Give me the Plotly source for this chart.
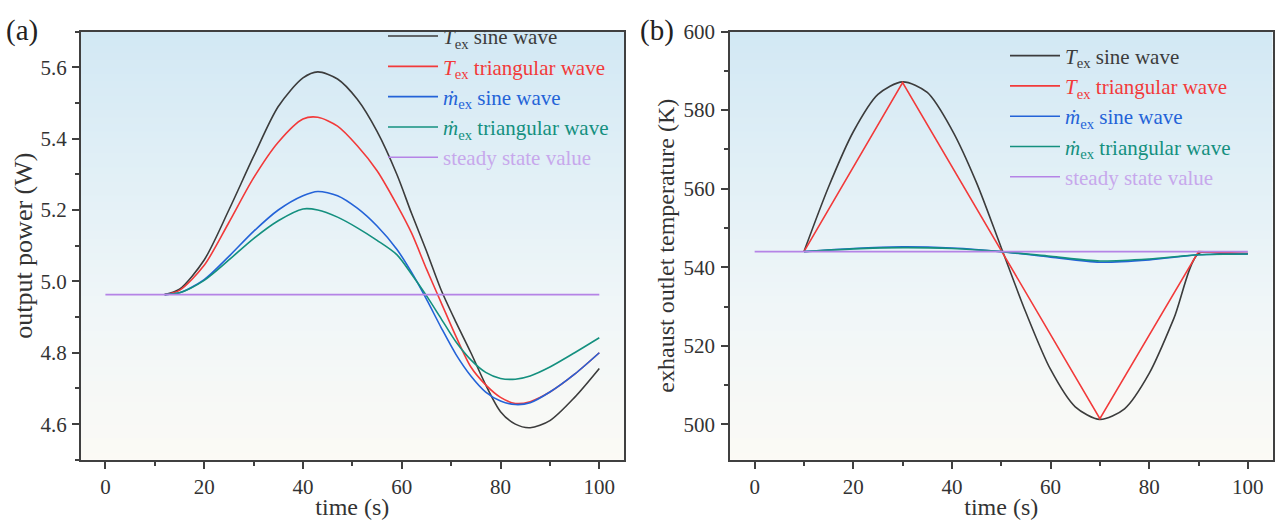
import plotly.graph_objects as go

# ---------------- data: panel (a) output power (W) ----------------
t_a = [12, 15, 20, 25, 30, 35, 40, 43, 47, 51, 55, 59, 62, 65, 68, 71, 74, 77, 80, 83, 86, 90, 95, 100]
p_tex_sine = [4.963, 4.978, 5.06, 5.20, 5.35, 5.49, 5.57, 5.587, 5.567, 5.51, 5.42, 5.30, 5.19, 5.085, 4.975,
              4.885, 4.80, 4.71, 4.635, 4.60, 4.59, 4.61, 4.675, 4.756]
p_tex_tri = [4.963, 4.975, 5.045, 5.165, 5.29, 5.39, 5.455, 5.46, 5.435, 5.38, 5.31, 5.215, 5.135, 5.035, 4.94,
             4.845, 4.76, 4.71, 4.675, 4.658, 4.663, 4.69, 4.74, 4.80]
p_mex_sine = [4.963, 4.968, 5.005, 5.07, 5.14, 5.20, 5.24, 5.252, 5.24, 5.205, 5.155, 5.09, 5.025, 4.95, 4.87,
              4.795, 4.735, 4.69, 4.665, 4.655, 4.66, 4.69, 4.74, 4.80]
p_mex_tri = [4.963, 4.968, 5.003, 5.06, 5.12, 5.17, 5.203, 5.20, 5.18, 5.15, 5.115, 5.075, 5.02, 4.96, 4.895,
             4.83, 4.78, 4.745, 4.728, 4.726, 4.735, 4.76, 4.80, 4.842]
t_steady = [0, 100]
p_steady = [4.963, 4.963]

# ---------------- data: panel (b) exhaust outlet temperature (K) ----------------
t_b_sine = [10, 15, 20, 25, 30, 35, 40, 45, 50, 55, 60, 65, 70, 75, 80, 85, 90, 95, 100]
T_tex_sine = [544, 560.5, 574.5, 584, 587.2, 584.5, 575, 561.5, 545, 528.5, 514, 504.5, 501.3, 504, 513, 527,
              543.5, 543.5, 543.5]
t_b_tri = [10, 30, 70, 90, 100]
T_tex_tri = [544, 587, 501.5, 544, 543.5]
t_b_m = [10, 20, 30, 40, 50, 60, 70, 80, 90, 100]
T_mex_sine = [544, 544.8, 545.2, 544.9, 544, 542.6, 541.3, 541.9, 543.2, 543.4]
T_mex_tri = [544, 544.7, 545.0, 544.8, 544, 542.8, 541.6, 542.1, 543.2, 543.4]
T_steady = [544, 544]

# ---------------- styles ----------------
C_BLACK = "#3c3c3c"
C_RED = "#f23a3a"
C_BLUE = "#2463d8"
C_TEAL = "#14907f"
C_PURPLE = "#b584e6"
FONT = "Liberation Serif"

names = [
    ('<span style="color:#3c3c3c"><i>T</i><sub>ex</sub> sine wave</span>', C_BLACK),
    ('<span style="color:#f23a3a"><i>T</i><sub>ex</sub> triangular wave</span>', C_RED),
    ('<span style="color:#2463d8"><i>ṁ</i><sub>ex</sub> sine wave</span>', C_BLUE),
    ('<span style="color:#14907f"><i>ṁ</i><sub>ex</sub> triangular wave</span>', C_TEAL),
    ('<span style="color:#c7a8ec">steady state value</span>', C_PURPLE),
]

fig = go.Figure()

series_a = [(t_a, p_tex_sine), (t_a, p_tex_tri), (t_a, p_mex_sine), (t_a, p_mex_tri), (t_steady, p_steady)]
for i, ((tx, ty), (nm, col)) in enumerate(zip(series_a, names)):
    fig.add_trace(go.Scatter(x=tx, y=ty, mode="lines", name=nm,
                             line=dict(color=col, width=1.6, shape="spline", smoothing=0.8),
                             xaxis="x", yaxis="y", legend="legend", legendgroup=f"a{i}"))

series_b = [(t_b_sine, T_tex_sine, "spline"), (t_b_tri, T_tex_tri, "linear"), (t_b_m, T_mex_sine, "spline"),
            (t_b_m, T_mex_tri, "spline"), (t_steady, T_steady, "linear")]
for i, ((tx, ty, shp), (nm, col)) in enumerate(zip(series_b, names)):
    ln = dict(color=col, width=1.6, shape=shp)
    if shp == "spline":
        ln["smoothing"] = 0.8
    fig.add_trace(go.Scatter(x=tx, y=ty, mode="lines", name=nm, line=ln,
                             xaxis="x2", yaxis="y2", legend="legend2", legendgroup=f"b{i}"))

W, H = 1277, 526
dom_y = [(526 - 458.3) / H, (526 - 20) / H]

axis_common = dict(
    showline=True, linecolor="#404040", linewidth=1.5, mirror=True,
    ticks="outside", ticklen=7, tickwidth=1.5, tickcolor="#404040",
    showgrid=False, zeroline=False,
    tickfont=dict(family=FONT, size=21, color="#333333"),
)

fig.update_layout(
    width=W, height=H, autosize=False,
    margin=dict(l=0, r=0, t=0, b=0),
    paper_bgcolor="white", plot_bgcolor="rgba(0,0,0,0)",
    font=dict(family=FONT, color="#333333"),
    xaxis=dict(domain=[80.7 / W, 624 / W], range=[-5, 105], dtick=20, tick0=0,
               minor=dict(ticks="outside", ticklen=4, dtick=10, tick0=0, tickcolor="#404040"),
               title=dict(text="time (s)", font=dict(family=FONT, size=24, color="#333333"), standoff=0),
               anchor="y", **axis_common),
    yaxis=dict(domain=dom_y, range=[4.5, 5.7], dtick=0.2, tick0=4.6, tickformat=".1f",
               minor=dict(ticks="outside", ticklen=4, dtick=0.1, tick0=4.5, tickcolor="#404040"),
               ticklabelstandoff=1,
               title=dict(text="output power (W)", font=dict(family=FONT, size=26, color="#333333"), standoff=0),
               anchor="x", **axis_common),
    xaxis2=dict(domain=[730 / W, 1272.5 / W], range=[-5, 105], dtick=20, tick0=0,
                minor=dict(ticks="outside", ticklen=4, dtick=10, tick0=0, tickcolor="#404040"),
                title=dict(text="time (s)", font=dict(family=FONT, size=24, color="#333333"), standoff=0),
                anchor="y2", **axis_common),
    yaxis2=dict(domain=dom_y, range=[491, 600], dtick=20, tick0=500,
                minor=dict(ticks="outside", ticklen=4, dtick=10, tick0=500, tickcolor="#404040"),
                ticklabelstandoff=2,
                title=dict(text="exhaust outlet temperature (K)", font=dict(family=FONT, size=24, color="#333333"),
                           standoff=2),
                anchor="x2", **axis_common),
    legend=dict(x=383 / W, y=1 - 4 / H, xanchor="left", yanchor="top", bgcolor="rgba(0,0,0,0)",
                borderwidth=0, font=dict(family=FONT, size=21), itemwidth=50, tracegroupgap=0,
                traceorder="normal"),
    legend2=dict(x=1005 / W, y=1 - 24 / H, xanchor="left", yanchor="top", bgcolor="rgba(0,0,0,0)",
                 borderwidth=0, font=dict(family=FONT, size=21), itemwidth=50, tracegroupgap=0,
                 traceorder="normal"),
    showlegend=True,
)

# panel labels
fig.add_annotation(text="(a)", x=22 / W, y=1 - 19 / H, xref="paper", yref="paper", showarrow=False,
                   xanchor="center", yanchor="middle", font=dict(family=FONT, size=29, color="#222222"))
fig.add_annotation(text="(b)", x=657 / W, y=1 - 19 / H, xref="paper", yref="paper", showarrow=False,
                   xanchor="center", yanchor="middle", font=dict(family=FONT, size=29, color="#222222"))

# soft vertical gradient background inside each plot area
stops = [(0.0, (251, 250, 245)), (0.35, (240, 246, 248)), (0.7, (224, 239, 246)), (1.0, (210, 232, 244))]


def grad_color(f):
    for (f0, c0), (f1, c1) in zip(stops[:-1], stops[1:]):
        if f0 <= f <= f1:
            u = (f - f0) / (f1 - f0)
            return "rgb(%d,%d,%d)" % tuple(round(a + (b - a) * u) for a, b in zip(c0, c1))
    return "rgb(%d,%d,%d)" % stops[-1][1]


N = 60
for xr, yr in (("x domain", "y domain"), ("x2 domain", "y2 domain")):
    for i in range(N):
        fig.add_shape(type="rect", xref=xr, yref=yr, x0=0, x1=1, y0=i / N, y1=(i + 1) / N + 0.002,
                      fillcolor=grad_color((i + 0.5) / N), line=dict(width=0), layer="below")

fig.write_html("out.html")
